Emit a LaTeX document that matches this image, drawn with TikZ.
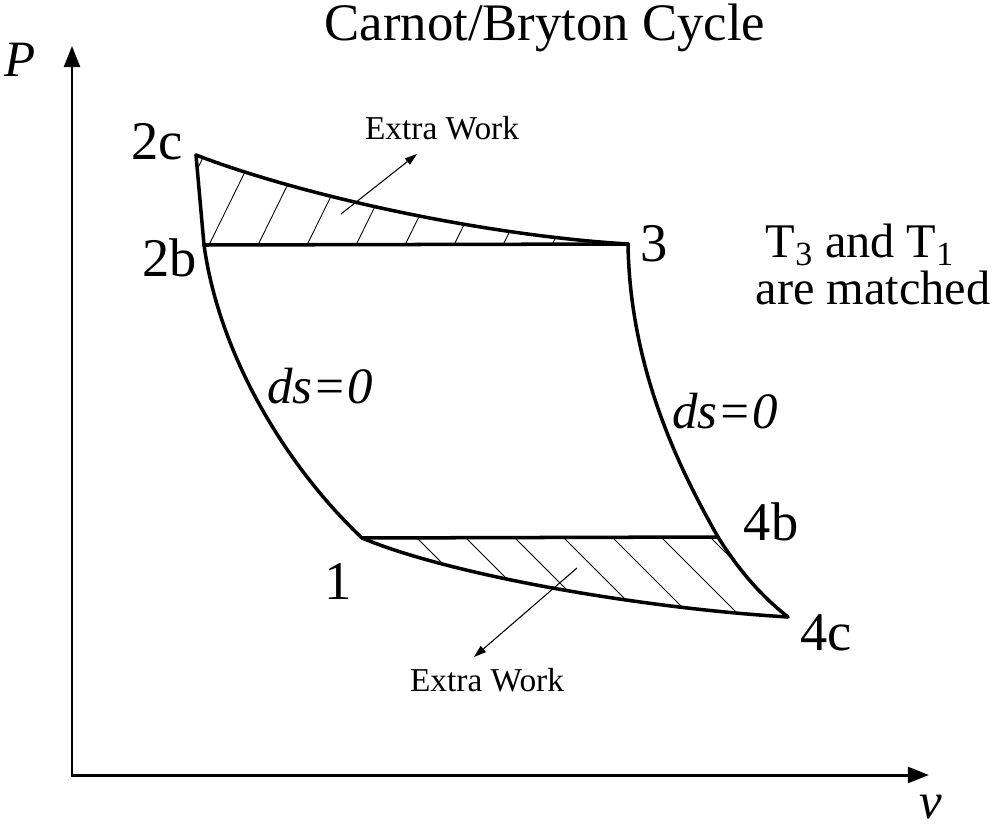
\documentclass[tikz,border=0pt]{standalone}
\usepackage{fontspec}
\setmainfont{Liberation Serif}
\usetikzlibrary{arrows.meta, positioning}
\tikzset{
  axis/.style={line width=1.7pt,-{Triangle[length=12pt,width=9pt]}},
  proc/.style={line width=2pt,line cap=round,line join=round},
  hatch/.style={line width=0.5pt},
  ptr/.style={line width=0.6pt,-{Triangle[length=7pt,width=4.5pt]}},
  lbl/.style={font=\fontsize{31}{34}\selectfont,inner sep=0pt},
  note/.style={font=\fontsize{27.5}{30}\selectfont,inner sep=0pt},
  small/.style={font=\fontsize{19}{22}\selectfont,inner sep=0pt}
}

\begin{document}
\begin{tikzpicture}[x=0.02cm,y=-0.02cm]

  \useasboundingbox (0,0) rectangle (992,829);

  % Axes
  \coordinate (org) at (72,775);
  \coordinate (ytop) at (72,46);
  \coordinate (xend) at (929,775);
  \draw[axis] (org) -- (ytop);
  \draw[axis] ([xshift=-0.85pt]org) -- (xend);
  \node[note,font=\fontsize{29}{30}\selectfont\itshape] (ylab) at (20,60) {P};
  \node[note,font=\fontsize{29}{30}\selectfont\itshape] (xlab) at (931,807) {v};

  % Title
  \node[note,font=\fontsize{30}{32}\selectfont] (title) at (545,28) {Carnot/Bryton Cycle};

  % State points
  \coordinate (s2c) at (196,155);
  \coordinate (s2b) at (204,245);
  \coordinate (s3) at (628,244);
  \coordinate (s1) at (362,538);
  \coordinate (s4b) at (718,537);
  \coordinate (s4c) at (788,617);

  % Hatching, upper region
  \begin{scope}
    \clip (s2c) .. controls (300,195) and (480,235) .. (s3) -- (s2b) -- cycle;
    \foreach \x in {160,209,...,640}
      \draw[hatch] (\x,245) -- (\x+60,123);
  \end{scope}

  % Hatching, lower region
  \begin{scope}
    \clip (s1) -- (s4b) .. controls (738,569) and (760,595) .. (s4c)
      .. controls (640,608) and (450,575) .. (s1);
    \foreach \x in {368,417,...,760}
      \draw[hatch] (\x,538) -- (\x+100,638);
  \end{scope}

  % Cycle
  \draw[proc] (s2c) .. controls (300,195) and (480,235) .. (s3);
  \draw[proc] (s2b) -- (s3);
  \draw[proc] (s2c) -- (s2b);
  \draw[proc] (s2b) .. controls (220,360) and (290,470) .. (s1);
  \draw[proc] (s3) .. controls (630,370) and (680,470) .. (s4b);
  \draw[proc] (s4b) .. controls (738,569) and (760,595) .. (s4c);
  \draw[proc] (s1) -- (s4b);
  \draw[proc] (s1) .. controls (450,575) and (640,608) .. (s4c);

  % Point labels
  \node[lbl,anchor=east] (l2c) at (183,142) {2c};
  \node[lbl,anchor=east] (l2b) at (197,258) {2b};
  \node[lbl] (l3) at (654,244) {3};
  \node[lbl] (l1) at (338,582) {1};
  \node[lbl] (l4b) at (771,522) {4b};
  \node[lbl] (l4c) at (826,633) {4c};

  % Process labels
  \node[note,font=\fontsize{29}{30}\selectfont\itshape] (dsl) at (320,386) {ds=0};
  \node[note,font=\fontsize{29}{30}\selectfont\itshape] (dsr) at (725,411) {ds=0};

  % Note
  \node[note] (note1) at (860,245) {T\textsubscript{3} and T\textsubscript{1}};
  \node[note] (note2) at (873,288) {are matched};

  % Extra work
  \node[small] (ewtop) at (442,128) {Extra Work};
  \node[small] (ewbot) at (487,680) {Extra Work};
  \coordinate (atop) at (341,214);
  \coordinate (abot) at (577,568);
  \draw[ptr] (atop) -- (417,154);
  \draw[ptr] (abot) -- (474,657);

\end{tikzpicture}
\end{document}
